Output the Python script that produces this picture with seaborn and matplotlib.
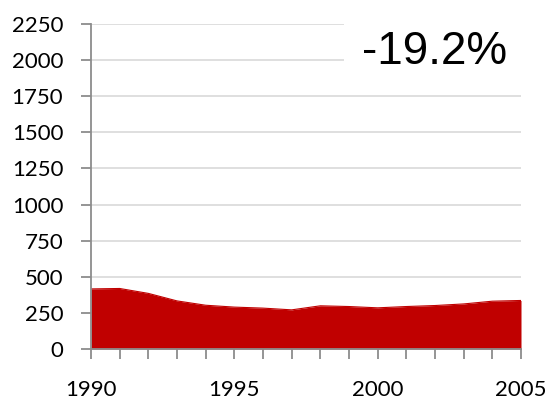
import matplotlib
matplotlib.use("Agg")
import matplotlib.pyplot as plt
import seaborn as sns
import pandas as pd

years = list(range(1990, 2006))
values = [416, 419, 385, 333, 303, 290, 283, 271, 299, 294, 285, 294, 301, 312, 331, 336]
change_label = "-19.2%"

sns.set_style("white")
plt.rcParams['font.family'] = ['Lato', 'DejaVu Sans']
plt.rcParams['text.color'] = 'black'
plt.rcParams['xtick.labelcolor'] = 'black'
plt.rcParams['ytick.labelcolor'] = 'black'

df = pd.DataFrame({'year': years, 'value': values})

fig = plt.figure(figsize=(5.49, 4.01), dpi=100)
ax = fig.add_axes([91 / 549, 1 - 349 / 401, 430 / 549, 325 / 401])

ax.fill_between(df['year'], 0, df['value'], color='#C00000', linewidth=0, zorder=3)
sns.lineplot(data=df, x='year', y='value', color='#C00000', linewidth=0.8, ax=ax, zorder=3)

ax.set_xlim(1990, 2005)
ax.set_ylim(0, 2250)
ax.set_yticks(range(0, 2251, 250))
ax.set_xticks(years)
ax.set_xticklabels([str(y) if y % 5 == 0 else '' for y in years])

for y in range(250, 2251, 250):
    ax.axhline(y, color='#d9d9d9', linewidth=1.2, zorder=1)

for s in ['top', 'right']:
    ax.spines[s].set_visible(False)
for s in ['left', 'bottom']:
    ax.spines[s].set_color('#8c8c8c')
    ax.spines[s].set_linewidth(1.3)
    ax.spines[s].set_zorder(4)

ax.tick_params(axis='y', direction='out', length=7, width=1.3, color='#8c8c8c',
               labelsize=16, pad=13, left=True, labelcolor='black')
ax.tick_params(axis='x', direction='out', length=7, width=1.3, color='#8c8c8c',
               labelsize=16, pad=15, bottom=True, labelcolor='black')
ax.set_xlabel('')
ax.set_ylabel('')

ax.text(0.80, 0.915, change_label, transform=ax.transAxes, ha='center', va='center',
        fontsize=33, color='black', family=['Liberation Sans', 'DejaVu Sans'], zorder=6,
        bbox=dict(boxstyle='square,pad=0.4', facecolor='white', edgecolor='none'))

fig.savefig('out.png', dpi=100)
